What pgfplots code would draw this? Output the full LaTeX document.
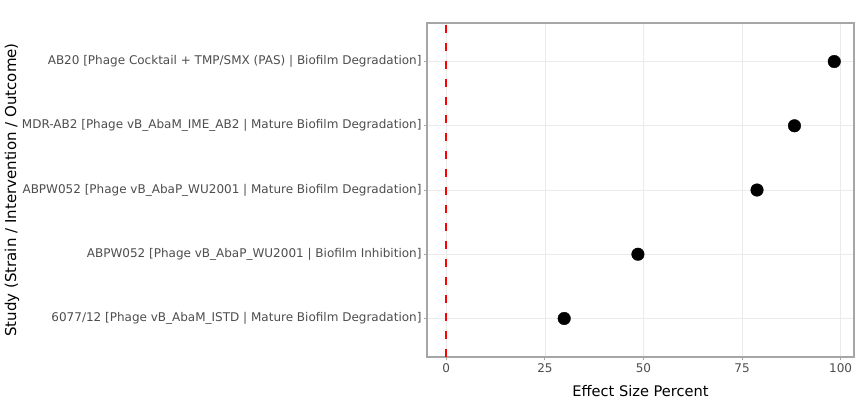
\documentclass[border=0pt]{standalone}
\usepackage{fontspec}
\setmainfont{DejaVu Sans}
\usepackage{pgfplots}
\pgfplotsset{compat=1.18}
\usepackage{pgfplotstable}
\definecolor{gridc}{HTML}{EBEBEB}
\definecolor{framec}{HTML}{A6A6A6}
\definecolor{tickc}{HTML}{4D4D4D}
\pgfplotstableread{
y effect
1 29.9
2 48.6
3 78.8
4 88.3
5 98.4
}\effects
\begin{document}
\begin{tikzpicture}[x=1pt,y=1pt]
\useasboundingbox (0,0) rectangle (860,400);
\begin{axis}[
  at={(427pt,43pt)}, anchor=south west,
  scale only axis, width=427pt, height=334pt,
  xmin=-4.9, xmax=103.4, ymin=0.4, ymax=5.6,
  xtick={0,25,50,75,100},
  ytick={1,2,3,4,5},
  yticklabels={
    {6077/12 [Phage vB\_AbaM\_ISTD | Mature Biofilm Degradation]},
    {ABPW052 [Phage vB\_AbaP\_WU2001 | Biofilm Inhibition]},
    {ABPW052 [Phage vB\_AbaP\_WU2001 | Mature Biofilm Degradation]},
    {MDR-AB2 [Phage vB\_AbaM\_IME\_AB2 | Mature Biofilm Degradation]},
    {AB20 [Phage Cocktail + TMP/SMX (PAS) | Biofilm Degradation]}},
  /pgf/number format/assume math mode=true,
  xtick pos=bottom, ytick pos=left,
  tick align=outside, major tick length=3pt,
  tick style={framec, line width=0.8pt},
  xmajorgrids, ymajorgrids,
  grid style={gridc, line width=0.6pt},
  axis line style={framec, line width=1.3pt},
  ticklabel style={font=\fontsize{12}{13}\selectfont, text=tickc},
  xticklabel style={yshift=0pt},
  yticklabel style={xshift=1pt},
  xlabel={Effect Size Percent},
  ylabel={Study (Strain / Intervention / Outcome)},
  every axis x label/.style={at={(axis description cs:0.5,0)}, anchor=center, yshift=-34pt, font=\fontsize{14.6}{16}\selectfont},
  every axis y label/.style={at={(axis description cs:0,0.5)}, xshift=-415pt, rotate=90, anchor=center, font=\fontsize{15}{16}\selectfont},
  clip=false,
]
\addplot[red, dash pattern=on 8pt off 10pt, line width=2pt] coordinates {(0,0.4) (0,5.6)};
\addplot[only marks, mark=*, mark size=6.3pt, mark options={fill=black, draw=black}] table[x=effect, y=y] {\effects};
\end{axis}
\end{tikzpicture}
\end{document}
